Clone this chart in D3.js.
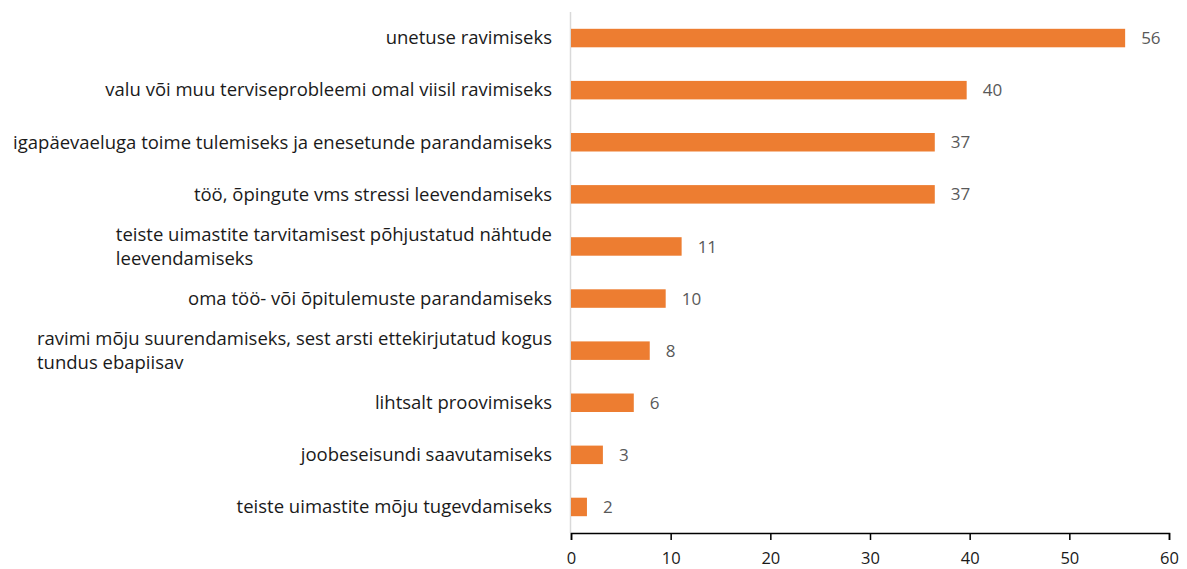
<!DOCTYPE html>
<html>
<head>
<meta charset="utf-8">
<script src="https://cdn.jsdelivr.net/npm/d3@7"></script>
<style>
  html, body { margin: 0; padding: 0; background: #fff; }
  svg { display: block; font-family: "Open Sans", Lato, sans-serif; }
</style>
</head>
<body>
<svg id="chart" width="1187" height="569"></svg>
<script>
const categories = [
  ["unetuse ravimiseks"],
  ["valu või muu terviseprobleemi omal viisil ravimiseks"],
  ["igapäevaeluga toime tulemiseks ja enesetunde parandamiseks"],
  ["töö, õpingute vms stressi leevendamiseks"],
  ["teiste uimastite tarvitamisest põhjustatud nähtude", "leevendamiseks"],
  ["oma töö- või õpitulemuste parandamiseks"],
  ["ravimi mõju suurendamiseks, sest arsti ettekirjutatud kogus", "tundus ebapiisav"],
  ["lihtsalt proovimiseks"],
  ["joobeseisundi saavutamiseks"],
  ["teiste uimastite mõju tugevdamiseks"]
];
const values = [55.6, 39.7, 36.5, 36.5, 11.1, 9.5, 7.9, 6.3, 3.2, 1.6];
const xTicks = [0, 10, 20, 30, 40, 50, 60];

const svg = d3.select("#chart");
const mLeft = 571, mRight = 1169, mTop = 12, mBottom = 533;

const x = d3.scaleLinear().domain([0, 60]).range([mLeft, mRight]);
const y = d3.scaleBand().domain(d3.range(categories.length)).range([mTop, mBottom]).paddingInner(0.645).paddingOuter(0.3225);

// vertical category axis line
svg.append("line")
  .attr("x1", mLeft - 0.5).attr("x2", mLeft - 0.5)
  .attr("y1", mTop).attr("y2", mBottom)
  .attr("stroke", "#d9d9d9").attr("stroke-width", 1.5);

// bars
svg.append("g").selectAll("rect").data(values).join("rect")
  .attr("x", x(0))
  .attr("y", (d, i) => y(i))
  .attr("width", d => x(d) - x(0))
  .attr("height", y.bandwidth())
  .attr("fill", "#ed7d31");

// value labels
svg.append("g").selectAll("text").data(values).join("text")
  .attr("x", d => x(d) + 16)
  .attr("y", (d, i) => y(i) + y.bandwidth() / 2)
  .attr("dy", "0.36em")
  .attr("fill", "#595959")
  .attr("font-size", 17)
  .text(d => d3.format(".0f")(d));

// category labels
const labelRight = 552;
const lineH = 24;
const lg = svg.append("g");
categories.forEach((lines, i) => {
  const cy = y(i) + y.bandwidth() / 2;
  const t = lg.append("text")
    .attr("fill", "#1a1a1a")
    .attr("font-size", 18.5);
  const n = lines.length;
  const tspans = lines.map((ln, k) => t.append("tspan")
    .attr("y", cy + (k - (n - 1) / 2) * lineH)
    .attr("dy", "0.34em")
    .text(ln));
  if (n === 1) {
    t.attr("text-anchor", "end");
    tspans.forEach(s => s.attr("x", labelRight));
  } else {
    const w = d3.max(tspans, s => s.node().getComputedTextLength());
    tspans.forEach(s => s.attr("x", labelRight - w));
  }
});

// x axis
const xAxis = d3.axisBottom(x).tickValues(xTicks).tickSize(7).tickPadding(12).tickFormat(d3.format("d"));
const ax = svg.append("g").attr("transform", `translate(0,${mBottom})`).call(xAxis);
ax.select(".domain").attr("stroke", "#000").attr("stroke-width", 1.5);
ax.selectAll(".tick line").attr("stroke", "#000").attr("stroke-width", 1.5);
ax.selectAll(".tick text").attr("font-size", 16.5).attr("fill", "#1a1a1a").attr("font-family", "\"Open Sans\", sans-serif");
</script>
</body>
</html>
